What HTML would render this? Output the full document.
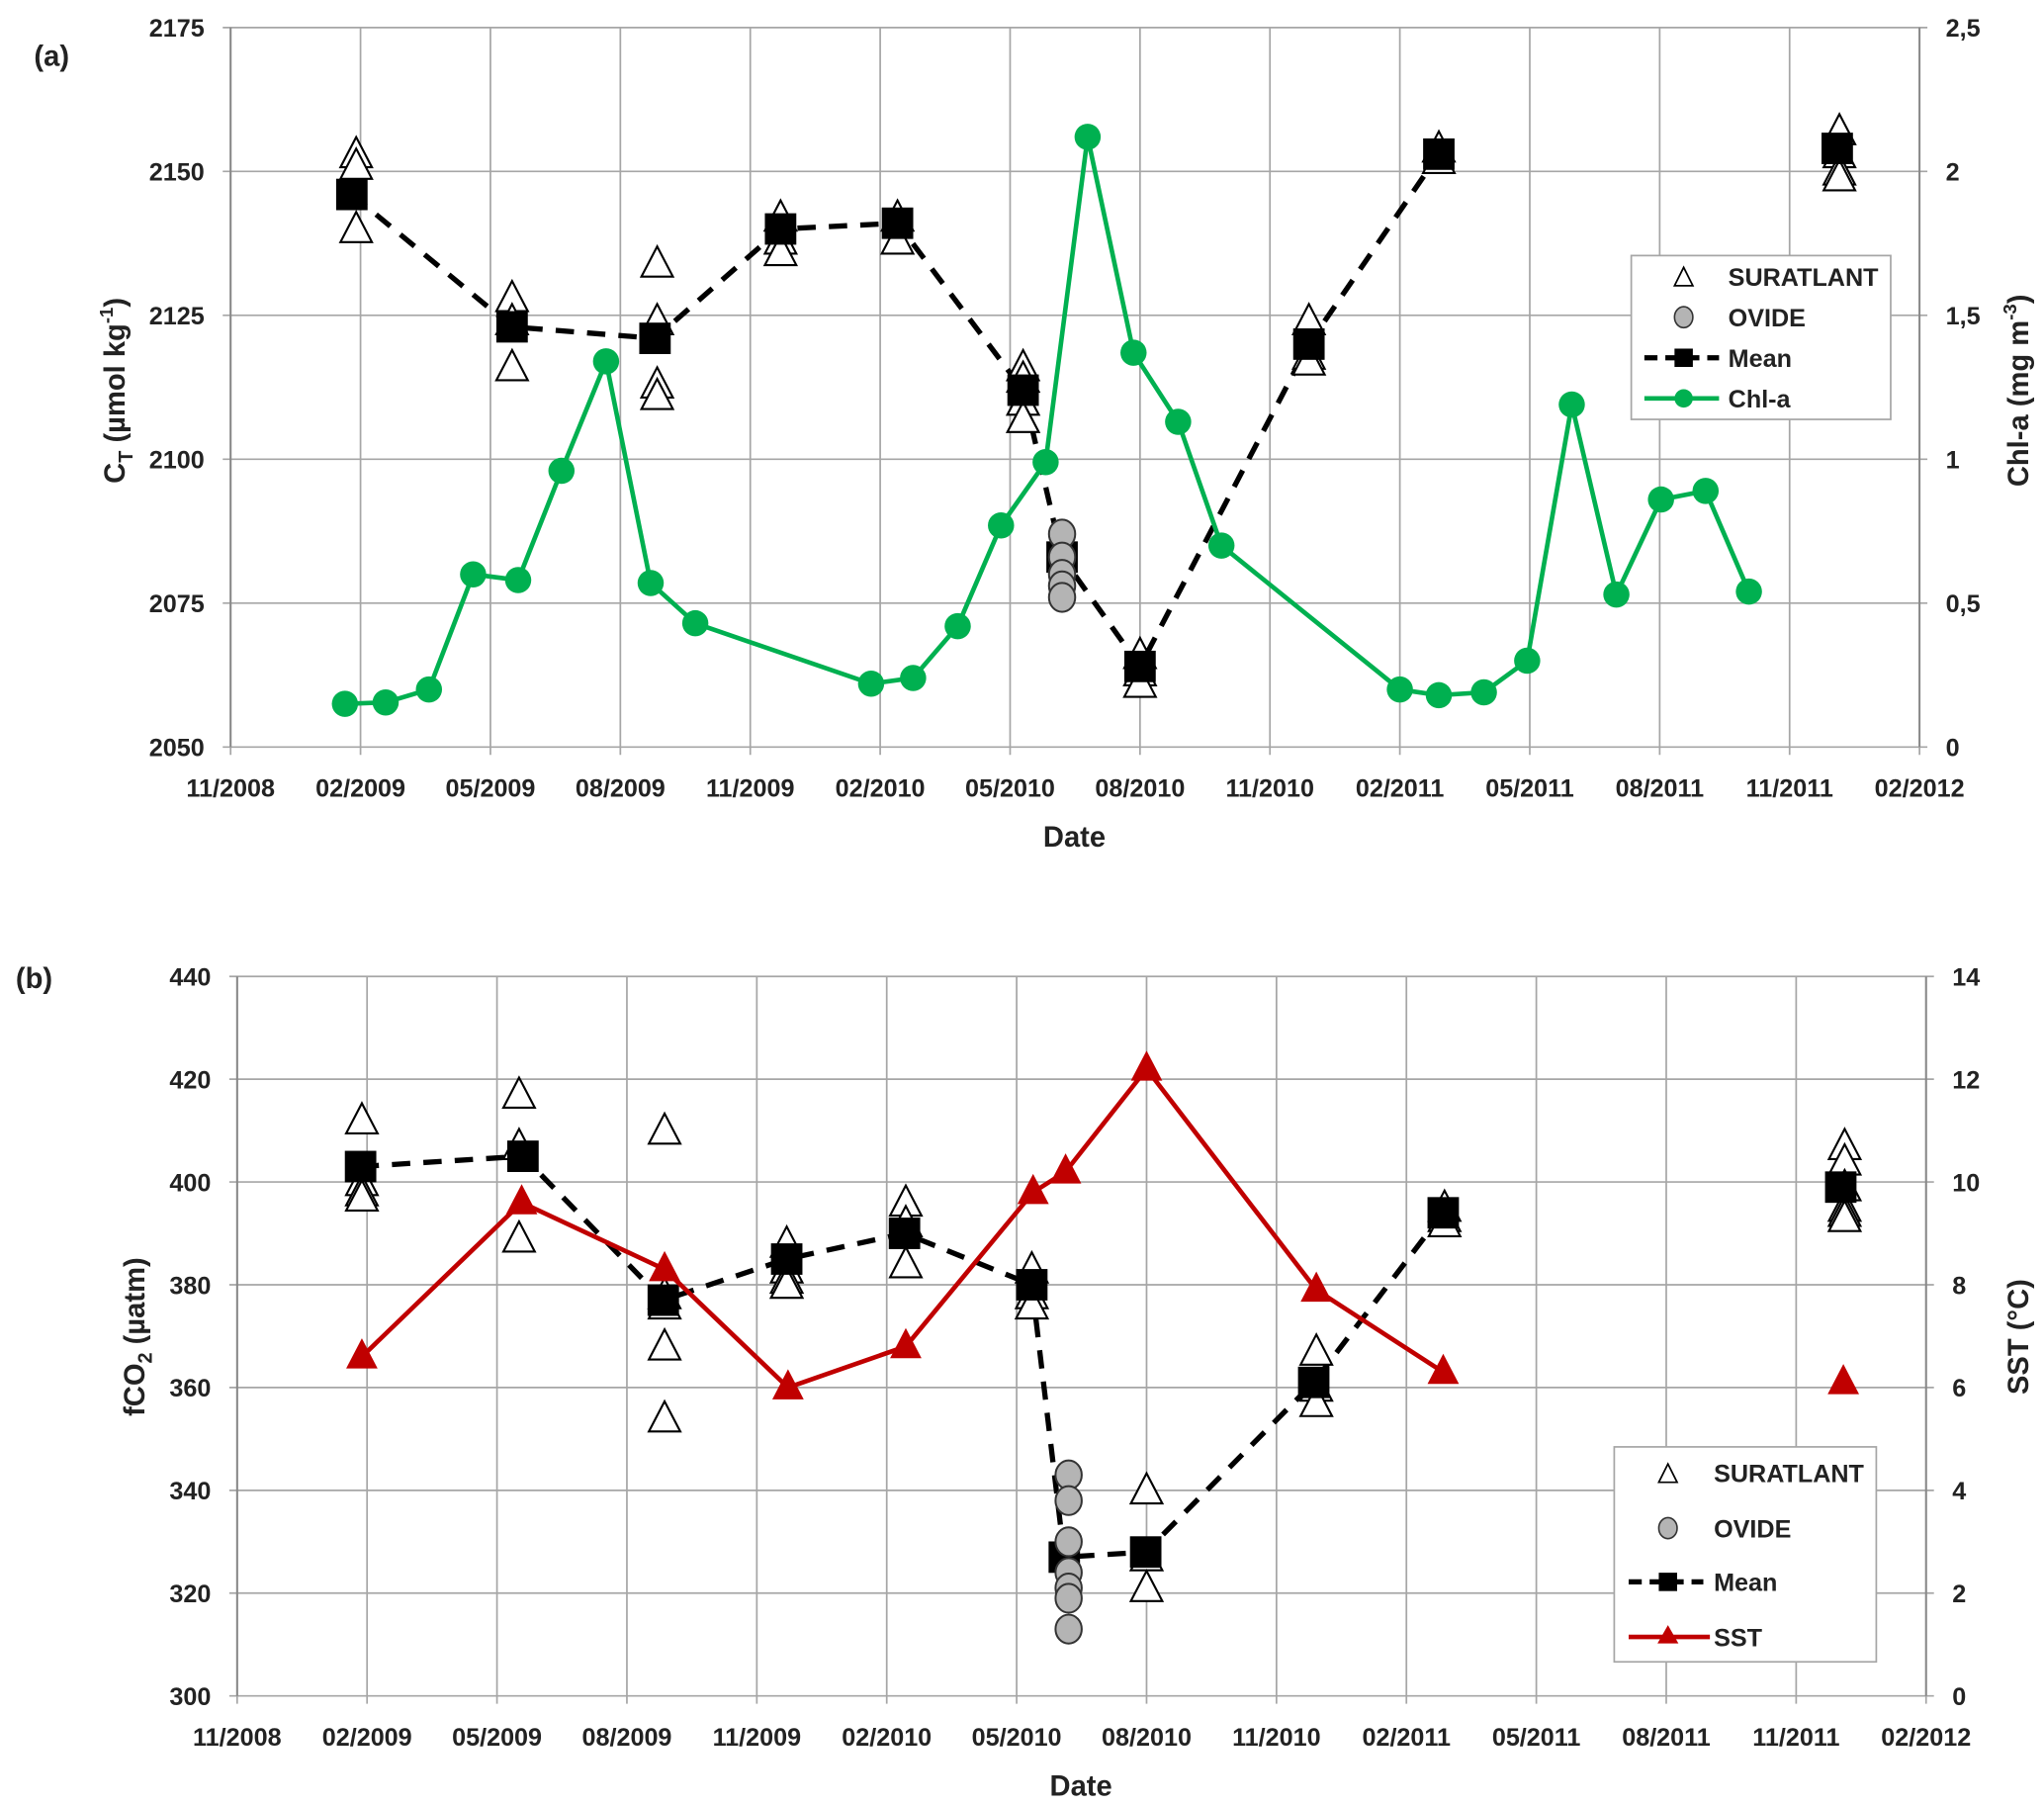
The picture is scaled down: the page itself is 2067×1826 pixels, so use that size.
<!DOCTYPE html>
<html><head><meta charset="utf-8"><style>
html,body{margin:0;padding:0;background:#fff}
svg{display:block}
text{font-family:"Liberation Sans",sans-serif;font-weight:bold;fill:#222}
</style></head><body>
<svg id="chart" xmlns="http://www.w3.org/2000/svg" width="2067" height="1826" viewBox="0 0 1560 1378" preserveAspectRatio="none"></svg>
<script>
// ---------- Panel (a) data ----------
const xTickLabels = ["11/2008","02/2009","05/2009","08/2009","11/2009","02/2010","05/2010","08/2010","11/2010","02/2011","05/2011","08/2011","11/2011","02/2012"];
const aLeftTicks = [2050,2075,2100,2125,2150,2175];
const aRightTicks = ["0","0,5","1","1,5","2","2,5"];
const aMeanMonths = [2.8,6.5,9.8,12.7,15.4,18.3,19.2,21.0,24.9,27.9,37.1];
const aMeanValues = [2146,2123,2121,2140,2141,2112,2083,2064,2120,2153,2154];
const aSurMonths = [2.9,6.5,9.85,12.7,15.4,18.3,21.0,24.9,27.9,37.15];
const aSurValues = [[2153,2151,2140],[2128,2124,2116],[2134,2124,2113,2111],[2142,2138,2136],[2142,2138],[2116,2114,2110,2107],[2066,2063,2061],[2124,2118,2117],[2154,2152],[2157,2153,2150,2149]];
const aOvideMonth = 19.2;
const aOvideValues = [2087,2083,2080,2078,2076];
const chlMonths = [2.64,3.58,4.58,5.6,6.64,7.64,8.67,9.7,10.73,14.79,15.76,16.79,17.79,18.82,19.79,20.85,21.88,22.88,27.0,27.9,28.94,29.94,30.97,32.0,33.03,34.06,35.06];
const chlValues = [0.15,0.155,0.2,0.6,0.58,0.96,1.34,0.57,0.43,0.22,0.24,0.42,0.77,0.99,2.12,1.37,1.13,0.7,0.2,0.18,0.19,0.3,1.19,0.53,0.86,0.89,0.54];
// ---------- Panel (b) data ----------
const bLeftTicks = [300,320,340,360,380,400,420,440];
const bRightTicks = ["0","2","4","6","8","10","12","14"];
const bMeanMonths = [2.85,6.6,9.84,12.69,15.41,18.35,19.1,20.98,24.86,27.85,37.03];
const bMeanValues = [403,405,377,385,390,380,327,328,361,394,399];
const bSurMonths = [2.88,6.51,9.87,12.69,15.44,18.35,21.0,24.92,27.88,37.12];
const bSurValues = [[412,400,398,397],[417,407,389],[410,378,376,368,354],[388,383,381,380],[396,392,384],[383,378,376],[340,327,321],[367,360,357],[395,393,392],[407,404,399,395,394,393]];
const bOvideMonth = 19.2;
const bOvideValues = [343,338,330,324,321,319,313];
const sstMonths = [2.88,6.57,9.87,12.72,15.44,18.38,19.13,21.0,24.92,27.85,37.09];
const sstValues = [6.6,9.6,8.3,6.0,6.8,9.8,10.2,12.2,7.9,6.3,6.1];

const NS="http://www.w3.org/2000/svg";
const svg=document.getElementById('chart');
function mk(tag,attrs,parent,txt){const e=document.createElementNS(NS,tag);for(const k in attrs)e.setAttribute(k,attrs[k]);if(txt!==undefined)e.textContent=txt;(parent||svg).appendChild(e);return e;}

function panel(cfg){
  const g=mk('g',{});
  
  
  const X=m=>cfg.x0+m*(cfg.x1-cfg.x0)/39;
  const YL=v=>cfg.yb-(v-cfg.lmin)/(cfg.lmax-cfg.lmin)*(cfg.yb-cfg.yt);
  const YR=v=>cfg.yb-(v-cfg.rmin)/(cfg.rmax-cfg.rmin)*(cfg.yb-cfg.yt);
  // grid
  cfg.lticks.forEach((t,i)=>{
    const y=YL(t);
    const l=mk('line',{x1:cfg.x0-6,x2:cfg.x1+6,y1:y,y2:y,stroke:'#a6a6a6','stroke-width':1.3},g);
    
    const tl=mk('text',{x:cfg.x0-20,y:y+7,'text-anchor':'end','font-size':19},g,String(t));
    
    const tr=mk('text',{x:cfg.x1+20,y:y+7,'font-size':19},g,cfg.rticks[i]);
    
  });
  xTickLabels.forEach((s,i)=>{
    const x=X(i*3);
    const l=mk('line',{x1:x,x2:x,y1:cfg.yt,y2:cfg.yb+6,stroke:'#a6a6a6','stroke-width':1.3},g);
    
    const t=mk('text',{x:x,y:cfg.yb+38,'text-anchor':'middle','font-size':19},g,s);
    
  });
  mk('line',{x1:cfg.x0,x2:cfg.x0,y1:cfg.yt,y2:cfg.yb,stroke:'#888','stroke-width':1.5},g);
  mk('line',{x1:cfg.x1,x2:cfg.x1,y1:cfg.yt,y2:cfg.yb,stroke:'#888','stroke-width':1.5},g);
  // mean line with gap before last point
  let d='';
  cfg.meanM.forEach((m,i)=>{ if(i<cfg.meanM.length-1) d+=(i?'L':'M')+X(m)+','+YL(cfg.meanV[i]); });
  const ml=mk('path',{d:d,fill:'none',stroke:'#000','stroke-width':4,'stroke-dasharray':'14,10'},g);
  
  // suratlant triangles
  cfg.surM.forEach((m,i)=>cfg.surV[i].forEach(v=>{
    const x=X(m),y=YL(v);
    const p=mk('polygon',{points:`${x},${y-13} ${x-12},${y+10} ${x+12},${y+10}`,fill:'#fff',stroke:'#000','stroke-width':1.6},g);
    
  }));
  // mean squares
  cfg.meanM.forEach((m,i)=>{
    const r=mk('rect',{x:X(m)-12,y:YL(cfg.meanV[i])-12,width:24,height:24,fill:'#000'},g);
    
  });
  // ovide circles
  cfg.ovV.forEach(v=>{
    const c=mk('ellipse',{cx:X(cfg.ovM),cy:YL(v),rx:10,ry:11,fill:'#b4b4b4',stroke:'#333','stroke-width':1.5},g);
    
  });
  return {g,X,YL,YR};
}

// Panel a
const A=panel({name:'panel-a',x0:176,x1:1465,yt:21,yb:570,lmin:2050,lmax:2175,rmin:0,rmax:2.5,lticks:aLeftTicks,rticks:aRightTicks,
  meanM:aMeanMonths,meanV:aMeanValues,surM:aSurMonths,surV:aSurValues,ovM:aOvideMonth,ovV:aOvideValues});
{
  let d='';chlMonths.forEach((m,i)=>{d+=(i?'L':'M')+A.X(m)+','+A.YR(chlValues[i]);});
  const l=mk('path',{d:d,fill:'none',stroke:'#00b050','stroke-width':3.5},A.g);
  
  chlMonths.forEach((m,i)=>{
    const c=mk('circle',{cx:A.X(m),cy:A.YR(chlValues[i]),r:10,fill:'#00b050'},A.g);
    
  });
}
// Panel b
const B=panel({name:'panel-b',x0:181,x1:1470,yt:745,yb:1294,lmin:300,lmax:440,rmin:0,rmax:14,lticks:bLeftTicks,rticks:bRightTicks,
  meanM:bMeanMonths,meanV:bMeanValues,surM:bSurMonths,surV:bSurValues,ovM:bOvideMonth,ovV:bOvideValues});
{
  let d='';sstMonths.forEach((m,i)=>{ if(i<sstMonths.length-1) d+=(i?'L':'M')+B.X(m)+','+B.YR(sstValues[i]);});
  const l=mk('path',{d:d,fill:'none',stroke:'#c00000','stroke-width':3.5},B.g);
  
  sstMonths.forEach((m,i)=>{
    const x=B.X(m),y=B.YR(sstValues[i]);
    const p=mk('polygon',{points:`${x},${y-14} ${x-12},${y+9} ${x+12},${y+9}`,fill:'#c00000'},B.g);
    
  });
}
</script>
<svg style="position:absolute;left:0;top:0" width="2067" height="1826" viewBox="0 0 1560 1378" preserveAspectRatio="none" xmlns="http://www.w3.org/2000/svg">
  <text x="26" y="50" font-size="22">(a)</text>
  <text transform="translate(95,298) rotate(-90)" text-anchor="middle" font-size="22">C<tspan font-size="15" dy="6">T</tspan><tspan dy="-6"> (µmol kg</tspan><tspan font-size="14" dy="-9">-1</tspan><tspan dy="9">)</tspan></text>
  <text transform="translate(1548,298) rotate(-90)" text-anchor="middle" font-size="22">Chl-a (mg m<tspan font-size="14" dy="-9">-3</tspan><tspan dy="9">)</tspan></text>
  <text x="820" y="646" text-anchor="middle" font-size="22">Date</text>
  <g>
    <rect x="1245" y="195" width="198" height="125" fill="#fff" stroke="#a6a6a6" stroke-width="1.3"/>
    <polygon points="1285,204 1278,218 1292,218" fill="#fff" stroke="#000" stroke-width="1.3"/>
    <text x="1319" y="218" font-size="19">SURATLANT</text>
    <ellipse cx="1285" cy="242" rx="7" ry="8" fill="#b4b4b4" stroke="#333" stroke-width="1.2"/>
    <text x="1319" y="249" font-size="19">OVIDE</text>
    <line x1="1255" x2="1312" y1="273" y2="273" stroke="#000" stroke-width="4" stroke-dasharray="10,6"/>
    <rect x="1278" y="266" width="14" height="14" fill="#000"/>
    <text x="1319" y="280" font-size="19">Mean</text>
    <line x1="1255" x2="1312" y1="304" y2="304" stroke="#00b050" stroke-width="3.5"/>
    <circle cx="1285" cy="304" r="7" fill="#00b050"/>
    <text x="1319" y="311" font-size="19">Chl-a</text>
  </g>
  <text x="12" y="754" font-size="22">(b)</text>
  <text transform="translate(110,1020) rotate(-90)" text-anchor="middle" font-size="22">fCO<tspan font-size="15" dy="6">2</tspan><tspan dy="-6"> (µatm)</tspan></text>
  <text transform="translate(1548,1020) rotate(-90)" text-anchor="middle" font-size="22">SST (°C)</text>
  <text x="825" y="1370" text-anchor="middle" font-size="22">Date</text>
  <g>
    <rect x="1232" y="1104" width="200" height="164" fill="#fff" stroke="#a6a6a6" stroke-width="1.3"/>
    <polygon points="1273,1117 1266,1131 1280,1131" fill="#fff" stroke="#000" stroke-width="1.3"/>
    <text x="1308" y="1131" font-size="19">SURATLANT</text>
    <ellipse cx="1273" cy="1166" rx="7" ry="8" fill="#b4b4b4" stroke="#333" stroke-width="1.2"/>
    <text x="1308" y="1173" font-size="19">OVIDE</text>
    <line x1="1243" x2="1300" y1="1207" y2="1207" stroke="#000" stroke-width="4" stroke-dasharray="10,6"/>
    <rect x="1266" y="1200" width="14" height="14" fill="#000"/>
    <text x="1308" y="1214" font-size="19">Mean</text>
    <line x1="1243" x2="1305" y1="1249" y2="1249" stroke="#c00000" stroke-width="3.5"/>
    <polygon points="1273,1240 1265,1254 1281,1254" fill="#c00000"/>
    <text x="1308" y="1256" font-size="19">SST</text>
  </g>
</svg>
</body></html>
